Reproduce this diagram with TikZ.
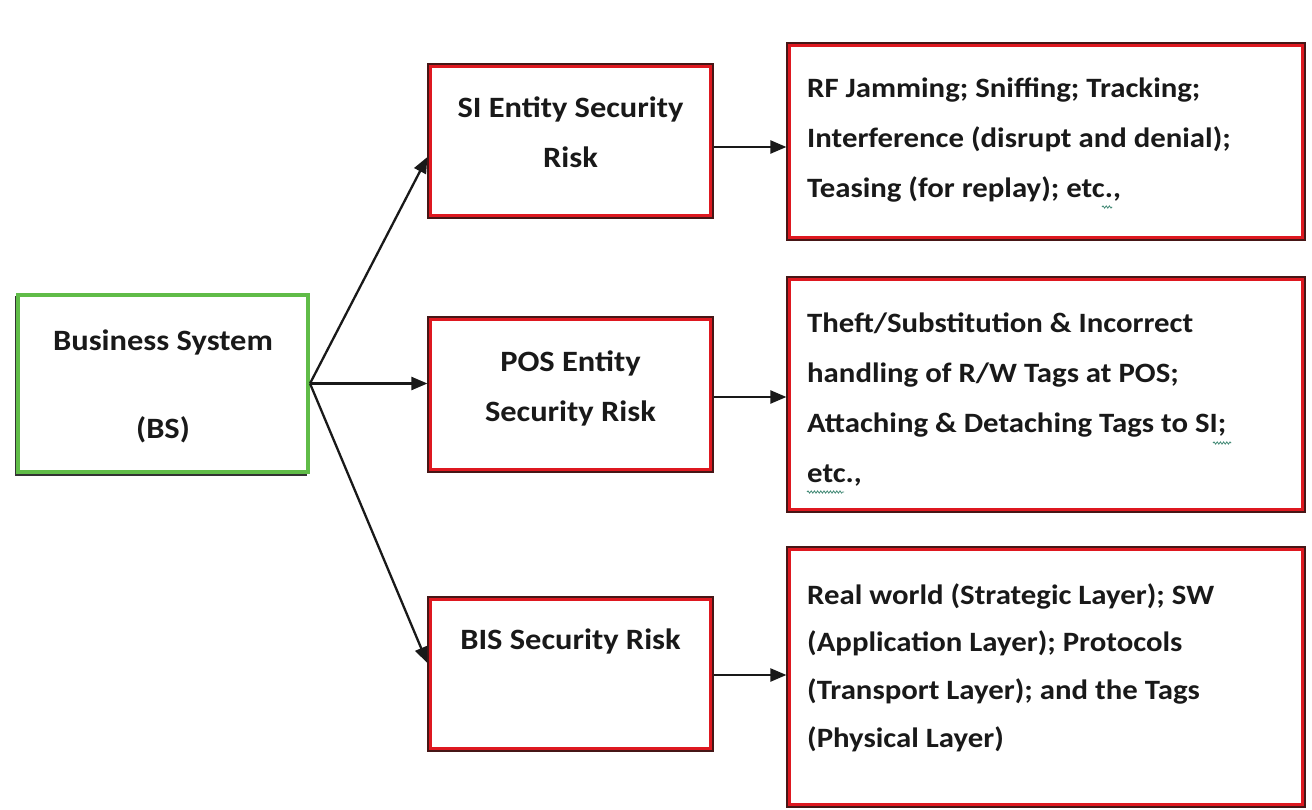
\documentclass[tikz,border=0pt]{standalone}
\usepackage{fontspec}
\setmainfont{Carlito}[FakeStretch=1.1]
\usetikzlibrary{arrows.meta,decorations.pathmorphing}

\definecolor{boxred}{RGB}{222,24,32}
\definecolor{edgedark}{RGB}{70,22,22}
\definecolor{bsgreen}{RGB}{96,188,72}
\definecolor{squigcol}{RGB}{70,140,120}

\tikzset{
  riskbox/.style={draw=edgedark, line width=1.2pt, fill=white, inner sep=0pt,
    path picture={\draw[boxred, line width=8pt]
      (path picture bounding box.north west) rectangle (path picture bounding box.south east);}},
  greenbox/.style={draw=bsgreen, line width=4pt, fill=white, inner sep=0pt},
  txt/.style={inner sep=0pt, font=\fontsize{28}{50}\selectfont\bfseries, text=black!90},
  bigtxt/.style={txt, font=\fontsize{29.5}{50}\selectfont\bfseries},
  conn/.style={draw=black!90, line width=2.3pt, -{Triangle[length=16pt,width=13pt]}},
  squig/.style={draw=squigcol, line width=0.8pt,
    decorate, decoration={snake, segment length=3.2pt, amplitude=1.1pt}}
}

\begin{document}
\begin{tikzpicture}[x=1pt,y=-1pt]
\useasboundingbox (0,0) rectangle (1312,810);

% business system
\draw[black!80, line width=2pt] (15.5,296) -- (15.5,474.5) -- (307,474.5);
\node[greenbox, minimum width=290pt, minimum height=177pt] (bs) at (163,383.5) {};
\node[bigtxt, anchor=base] (bsT1) at (163,351) {Business System};
\node[bigtxt, anchor=base] (bsT2) at (163,438) {(BS)};

% risk categories
\node[riskbox, minimum width=285pt, minimum height=154pt] (si)  at (570.5,141) {};
\node[riskbox, minimum width=285pt, minimum height=155pt] (pos) at (570.5,394.5) {};
\node[riskbox, minimum width=285pt, minimum height=154pt] (bis) at (570.5,674) {};

% multi-line texts are placed by the baseline of their last line
\node[bigtxt, anchor=base, align=center] (siT)  at (570.5,168) {SI Entity Security\\Risk};
\node[bigtxt, anchor=base, align=center] (posT) at (570.5,421) {POS Entity\\Security Risk};
\node[bigtxt, anchor=base] (bisT) at (570.5,649) {BIS Security Risk};

% threat descriptions
\node[riskbox, minimum width=518pt, minimum height=197pt] (r1) at (1046,141.5) {};
\node[riskbox, minimum width=518pt, minimum height=235pt] (r2) at (1046,394.5) {};
\node[riskbox, minimum width=518pt, minimum height=260pt] (r3) at (1046,677) {};

\node[txt, anchor=base west, align=left] (r1T) at (807,198)
  {RF Jamming; Sniffing; Tracking;\\Interference (disrupt and denial);\\Teasing (for replay); etc.,};
\node[txt, anchor=base west, align=left] (r2T) at (807,482)
  {Theft/Substitution \& Incorrect\\handling of R/W Tags at POS;\\Attaching \& Detaching Tags to SI;\\etc.,};
\node[txt, anchor=base west, align=left, font=\fontsize{28}{47.6}\selectfont\bfseries] (r3T) at (807,747)
  {Real world (Strategic Layer); SW\\(Application Layer); Protocols\\(Transport Layer); and the Tags\\(Physical Layer)};

% spelling marks
\draw[squig] (1102,207) -- (1112,207);
\draw[squig] (1213,443) -- (1231,443);
\draw[squig] (807,492) -- (844,492);

% connectors
\draw[conn] (bs.east) -- ([yshift=-16pt]si.west);
\draw[conn] (bs.east) -- ([yshift=11pt]pos.west);
\draw[conn] (bs.east) -- ([yshift=11pt]bis.west);

\draw[conn] ([yshift=-6pt]si.east) -- ([yshift=-6pt]si.east -| r1.west);
\draw[conn] ([yshift=-2.5pt]pos.east) -- ([yshift=-2.5pt]pos.east -| r2.west);
\draw[conn] ([yshift=-1pt]bis.east) -- ([yshift=-1pt]bis.east -| r3.west);
\end{tikzpicture}
\end{document}
